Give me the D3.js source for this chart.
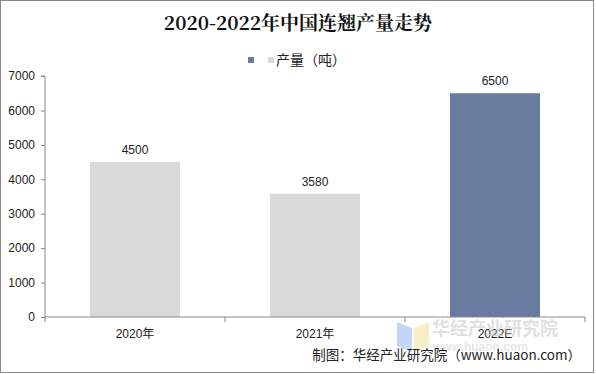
<!DOCTYPE html>
<html><head><meta charset="utf-8">
<script src="https://cdn.jsdelivr.net/npm/d3@7"></script>
<style>body{margin:0;background:#fff}svg{display:block}</style>
</head><body>
<script>
const categories = ["2020年", "2021年", "2022E"];
const values = [4500, 3580, 6500];
const barColors = ["#d9d9d9", "#d9d9d9", "#697b9f"];
const yTicks = [0, 1000, 2000, 3000, 4000, 5000, 6000, 7000];
const title = "2020-2022年中国连翘产量走势";
const seriesName = "产量（吨）";
const source = "制图：华经产业研究院（www.huaon.com）";

const W = 596, H = 374;
const svg = d3.select("body").append("svg").attr("width", W).attr("height", H);
svg.append("rect").attr("x", 0.5).attr("y", 0.5).attr("width", W - 3).attr("height", H - 2)
  .attr("fill", "#fff").attr("stroke", "#888").attr("stroke-width", 1);

const m = {left: 45, right: 585, top: 76, bottom: 317};
const x = d3.scaleBand().domain(categories).range([m.left, m.right]).paddingInner(0.5).paddingOuter(0.25);
const xb = d3.scaleBand().domain(categories).range([m.left, m.right]);
const y = d3.scaleLinear().domain([0, 7000]).range([m.bottom, m.top]);

svg.append("text").attr("x", 298).attr("y", 30).attr("text-anchor", "middle")
  .attr("font-family", "'Noto Serif CJK SC','Liberation Serif','DejaVu Serif',serif")
  .attr("font-weight", "bold").attr("font-size", 19).attr("fill", "#111").text(title);

// legend
svg.append("rect").attr("x", 248).attr("y", 57).attr("width", 6).attr("height", 6).attr("fill", barColors[2]);
svg.append("rect").attr("x", 268).attr("y", 57).attr("width", 6).attr("height", 6).attr("fill", barColors[0]);
svg.append("text").attr("x", 276).attr("y", 65).attr("font-family", "'Noto Sans CJK SC',sans-serif")
  .attr("font-size", 14).attr("fill", "#222").text(seriesName);

// bars
svg.selectAll("rect.bar").data(values).enter().append("rect").attr("class", "bar")
  .attr("x", (d, i) => x(categories[i])).attr("width", x.bandwidth())
  .attr("y", d => y(d)).attr("height", d => y(0) - y(d))
  .attr("fill", (d, i) => barColors[i]);

svg.selectAll("text.val").data(values).enter().append("text").attr("class", "val")
  .attr("x", (d, i) => x(categories[i]) + x.bandwidth() / 2).attr("y", d => y(d) - 8)
  .attr("text-anchor", "middle").attr("font-family", "'Liberation Sans',Arial,sans-serif")
  .attr("font-size", 12).attr("fill", "#222").text(d => d);

// y axis
const ya = svg.append("g").attr("transform", `translate(${m.left},0)`)
  .call(d3.axisLeft(y).tickValues(yTicks).tickFormat(d3.format("d")).tickSize(4).tickPadding(6));
ya.selectAll("path,line").attr("stroke", "#888");
ya.select(".domain").attr("d", `M-4,${m.top}H0V${m.bottom}`);
ya.selectAll("text").attr("font-family", "'Liberation Sans',Arial,sans-serif").attr("font-size", 12).attr("fill", "#222");

// x axis
const xa = svg.append("g").attr("transform", `translate(0,${m.bottom})`);
xa.append("line").attr("x1", m.left).attr("x2", m.right).attr("stroke", "#888");
xa.selectAll("line.t").data(categories.concat(["end"])).enter().append("line").attr("class", "t")
  .attr("x1", (d, i) => m.left + i * xb.step()).attr("x2", (d, i) => m.left + i * xb.step())
  .attr("y1", 0).attr("y2", 5).attr("stroke", "#888");

// watermark
const wm = svg.append("g").attr("opacity", 0.55);
wm.append("path").attr("d", "M397,322 L412,328 L412,352 L397,346 Z").attr("fill", "#8fb8ee");
wm.append("path").attr("d", "M414,328 L429,322 L429,346 L414,352 Z").attr("fill", "#f5e39a");
wm.append("text").attr("x", 432).attr("y", 335).attr("font-family", "'Noto Sans CJK SC',sans-serif")
  .attr("font-size", 18).attr("font-weight", "bold").attr("fill", "#c8c8c8").text("华经产业研究院");
wm.append("text").attr("x", 433).attr("y", 351).attr("font-family", "'Liberation Sans',Arial,sans-serif")
  .attr("font-size", 12).attr("font-weight", "bold").attr("fill", "#d4d4d4").text("www.huaon.com");

xa.selectAll("text").data(categories).enter().append("text")
  .attr("x", d => xb(d) + xb.bandwidth() / 2).attr("y", 21).attr("text-anchor", "middle")
  .attr("font-family", "'Liberation Sans','Noto Sans CJK SC',sans-serif").attr("font-size", 12).attr("fill", "#222").text(d => d);

svg.append("text").attr("x", 581).attr("y", 360).attr("text-anchor", "end")
  .attr("font-family", "'Noto Sans CJK SC',sans-serif").attr("font-size", 13.5).attr("fill", "#222").text(source);
</script>
</body></html>
